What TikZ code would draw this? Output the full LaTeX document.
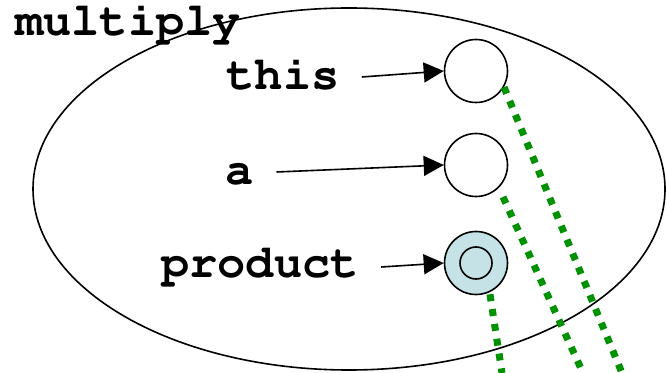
\documentclass[tikz,border=0pt]{standalone}
\usepackage[T1]{fontenc}
\usetikzlibrary{arrows.meta}
\definecolor{linkgreen}{RGB}{0,145,0}
\definecolor{slotfill}{RGB}{197,227,230}
\newcommand{\codefont}{\fontfamily{pcr}\bfseries}

\begin{document}
\begin{tikzpicture}[x=0.5pt, y=-0.5pt,
  lbl/.style={font=\codefont\fontsize{23.5}{28}\selectfont, inner sep=0pt, anchor=base},
  slot/.style={draw, circle, minimum size=31.5pt, inner sep=0pt, line width=0.8pt},
  ref/.style={line width=0.8pt, -{Triangle[length=10pt, width=10pt]}},
  link/.style={linkgreen, line width=3.5pt, dash pattern=on 3.5pt off 4pt}]
	%%%%% FRAME %%%%%
	\useasboundingbox (0,0) rectangle (667,373);
	\draw[line width=0.8pt] (349,189) ellipse [x radius=316, y radius=181];
	
	\node[lbl] (multiply) at (128,36) {multiply};
	\node[lbl] (this) at (283,90) {this};
	\node[lbl] (a) at (240,185) {a};
	\node[lbl] (product) at (260,277) {product};
	
	%%%%% SLOTS %%%%%
	\node[slot] (sthis) at (476,71) {};
	\node[slot] (sa) at (476,165) {};
	\node[slot, fill=slotfill] (sproduct) at (476,263) {};
	\draw[line width=0.8pt] (sproduct) circle [radius=8pt];
	
	\draw[ref] ([xshift=11pt,yshift=6.5pt]this.base east) -- (sthis.west);
	\draw[ref] ([xshift=11pt,yshift=6.5pt]a.base east) -- (sa.west);
	\draw[ref] ([xshift=11pt,yshift=5pt]product.base east) -- (sproduct.west);
	
	%%%%% LINKS %%%%%
	\coordinate (endthis) at (622,373);
	\coordinate (enda) at (583,373);
	\coordinate (endproduct) at (502,373);
	\draw[link] (sthis.-30) -- (endthis);
	\draw[link, shorten <=5pt] (sa.-45) -- (enda);
	\draw[link, shorten <=1pt] (sproduct.-65) -- (endproduct);
\end{tikzpicture}
\end{document}
